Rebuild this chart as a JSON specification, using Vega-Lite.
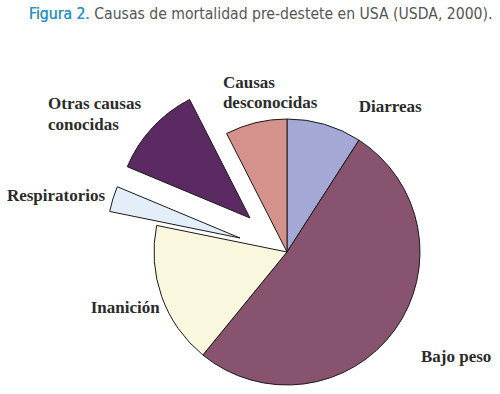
{
  "$schema": "https://vega.github.io/schema/vega-lite/v6.json",
  "autosize": "none",
  "width": 266,
  "height": 266,
  "padding": {"left": 154, "top": 119, "right": 80, "bottom": 9},
  "background": "white",
  "title": {
    "text": "Figura 2. Causas de mortalidad pre-destete en USA (USDA, 2000).",
    "subtitle": "Figura 2.",
    "anchor": "start",
    "frame": "group",
    "dx": -125,
    "offset": 51,
    "font": "DejaVu Sans Condensed",
    "fontSize": 15.6,
    "fontWeight": "normal",
    "color": "#555555",
    "subtitleFont": "DejaVu Sans Condensed",
    "subtitleFontSize": 15.6,
    "subtitleFontWeight": "normal",
    "subtitleColor": "#1a9ed8",
    "subtitlePadding": -15.6
  },
  "config": {"view": {"stroke": null}},
  "data": {
    "values": [
      {"causa": "Diarreas", "valor": 9.1, "orden": 1, "etiqueta": "Diarreas"},
      {"causa": "Bajo peso", "valor": 51.8, "orden": 2, "etiqueta": "Bajo peso"},
      {"causa": "Inanición", "valor": 17.3, "orden": 3, "etiqueta": "Inanición"},
      {"causa": "Respiratorios", "valor": 3.1, "orden": 4, "etiqueta": "Respiratorios"},
      {"causa": "Otras causas conocidas", "valor": 11.2, "orden": 5, "etiqueta": "Otras causas\nconocidas"},
      {"causa": "Causas desconocidas", "valor": 7.5, "orden": 6, "etiqueta": "Causas\ndesconocidas"}
    ]
  },
  "transform": [
    {"stack": "valor", "groupby": [], "sort": [{"field": "orden", "order": "ascending"}], "as": ["ini", "fin"]}
  ],
  "encoding": {
    "theta": {"field": "ini", "type": "quantitative", "scale": {"domain": [0, 100]}},
    "theta2": {"field": "fin"}
  },
  "layer": [
    {
      "transform": [{"filter": "datum.causa !== 'Respiratorios' && datum.causa !== 'Otras causas conocidas'"}],
      "mark": {"type": "arc", "stroke": "#1a1a1a", "strokeWidth": 1},
      "encoding": {
        "color": {"field": "causa", "type": "nominal", "legend": null,
          "scale": {"domain": ["Diarreas", "Bajo peso", "Inanición", "Respiratorios", "Otras causas conocidas", "Causas desconocidas"],
                    "range": ["#a4a8d6", "#87536e", "#faf7df", "#e3eef8", "#5c2a63", "#d5928c"]}}
      }
    },
    {
      "transform": [{"filter": "datum.causa === 'Respiratorios'"}],
      "mark": {"type": "arc", "stroke": "#1a1a1a", "strokeWidth": 1, "xOffset": -47, "yOffset": -14},
      "encoding": {"color": {"field": "causa", "type": "nominal", "legend": null}}
    },
    {
      "transform": [{"filter": "datum.causa === 'Otras causas conocidas'"}],
      "mark": {"type": "arc", "stroke": "#1a1a1a", "strokeWidth": 1, "xOffset": -37, "yOffset": -34},
      "encoding": {"color": {"field": "causa", "type": "nominal", "legend": null}}
    },
    {
      "transform": [{"filter": "datum.causa === 'Diarreas'"}],
      "mark": {"type": "text", "radius": 150, "dx": 22, "dy": -13.5, "align": "center", "baseline": "alphabetic", "font": "Liberation Serif", "fontWeight": "bold", "fontSize": 17, "color": "#2b2b2b"},
      "encoding": {"theta": {"field": "fin", "type": "quantitative"}, "text": {"field": "etiqueta"}}
    },
    {
      "transform": [{"filter": "datum.causa === 'Bajo peso'"}],
      "mark": {"type": "text", "radius": 150, "dx": 88, "dy": 236, "align": "center", "baseline": "alphabetic", "font": "Liberation Serif", "fontWeight": "bold", "fontSize": 17, "color": "#2b2b2b"},
      "encoding": {"text": {"field": "etiqueta"}}
    },
    {
      "transform": [{"filter": "datum.causa === 'Inanición'"}],
      "mark": {"type": "text", "radius": 150, "dx": -67, "dy": -55.5, "align": "center", "baseline": "alphabetic", "font": "Liberation Serif", "fontWeight": "bold", "fontSize": 17, "color": "#2b2b2b"},
      "encoding": {"text": {"field": "etiqueta"}}
    },
    {
      "transform": [{"filter": "datum.causa === 'Respiratorios'"}],
      "mark": {"type": "text", "radius": 150, "dx": -84, "dy": -21.3, "align": "center", "baseline": "alphabetic", "font": "Liberation Serif", "fontWeight": "bold", "fontSize": 17, "color": "#2b2b2b"},
      "encoding": {"text": {"field": "etiqueta"}}
    },
    {
      "transform": [{"filter": "datum.causa === 'Otras causas conocidas'"}],
      "mark": {"type": "text", "radius": 150, "dx": -100.6, "dy": -85.2, "align": "left", "baseline": "alphabetic", "lineBreak": "\n", "lineHeight": 21, "font": "Liberation Serif", "fontWeight": "bold", "fontSize": 17, "color": "#2b2b2b"},
      "encoding": {"text": {"field": "etiqueta"}}
    },
    {
      "transform": [{"filter": "datum.causa === 'Causas desconocidas'"}],
      "mark": {"type": "text", "radius": 150, "dx": 4, "dy": -30.3, "align": "left", "baseline": "alphabetic", "lineBreak": "\n", "lineHeight": 20, "font": "Liberation Serif", "fontWeight": "bold", "fontSize": 17, "color": "#2b2b2b"},
      "encoding": {"text": {"field": "etiqueta"}}
    }
  ]
}
